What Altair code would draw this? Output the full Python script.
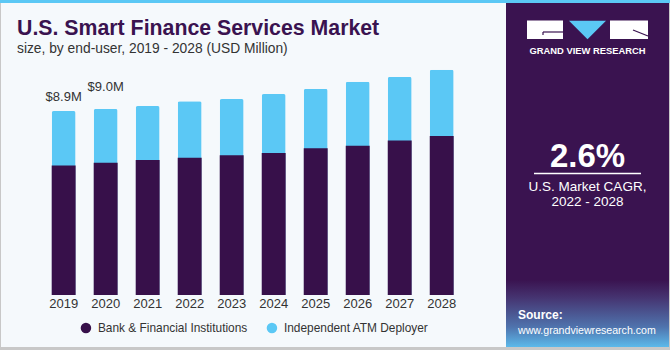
import altair as alt
import pandas as pd

years = ["2019", "2020", "2021", "2022", "2023", "2024", "2025", "2026", "2027", "2028"]
bank = [6.27, 6.40, 6.53, 6.64, 6.76, 6.87, 7.10, 7.22, 7.47, 7.69]
atm = [2.63, 2.60, 2.61, 2.73, 2.72, 2.85, 2.87, 3.10, 3.08, 3.21]
value_labels = ["$8.9M", "$9.0M", "", "", "", "", "", "", "", ""]
series_names = ["Bank & Financial Institutions", "Independent ATM Deployer"]
series_colors = ["#37104a", "#5bc8f5"]

df = pd.DataFrame({"year": years, "bank": bank, "atm": atm, "label": value_labels})

FONT = "Liberation Sans"
BG = "#f5f9fc"
PANEL = "#3a1350"

xs = alt.Scale(domain=years, range=[51.7, 453.7], paddingInner=0.43, paddingOuter=0)
ys = alt.Scale(domain=[0, 14.27], range=[295, 0])
cs = alt.Scale(domain=series_names, range=series_colors)

base = alt.Chart(df).transform_calculate(total="datum.bank + datum.atm")

atm_bars = base.transform_calculate(series="'Independent ATM Deployer'").mark_bar(
    cornerRadiusTopLeft=2, cornerRadiusTopRight=2
).encode(
    x=alt.X("year:N", scale=xs, axis=None),
    y=alt.Y("total:Q", scale=ys, axis=None),
    color=alt.Color("series:N", scale=cs, legend=alt.Legend(
        title=None, orient="none", legendX=80, legendY=322, direction="horizontal",
        symbolType="circle", symbolSize=110, symbolStrokeWidth=0,
        labelFontSize=11.9, labelColor="#333333", labelFont=FONT, labelLimit=0,
        columnPadding=18, labelOffset=6)),
)

bank_bars = base.transform_calculate(series="'Bank & Financial Institutions'").mark_bar().encode(
    x=alt.X("year:N", scale=xs, axis=None),
    y=alt.Y("bank:Q", scale=ys, axis=None),
    color=alt.Color("series:N", scale=cs),
)

lab1 = base.transform_filter("datum.year == '2019'").mark_text(
    font=FONT, fontSize=13, color="#333333", baseline="alphabetic", dy=-10
).encode(x=alt.X("year:N", scale=xs), y=alt.Y("total:Q", scale=ys), text="label:N")
lab2 = base.transform_filter("datum.year == '2020'").mark_text(
    font=FONT, fontSize=13, color="#333333", baseline="alphabetic", dy=-18
).encode(x=alt.X("year:N", scale=xs), y=alt.Y("total:Q", scale=ys), text="label:N")

year_labels = base.mark_text(font=FONT, fontSize=13, color="#333333", baseline="alphabetic").encode(
    x=alt.X("year:N", scale=xs), y=alt.value(308), text="year:N")

one = alt.Chart(pd.DataFrame({"a": [0]}))

def rect(x1, x2, y1, y2, color, **kw):
    return one.mark_rect(color=color, **kw).encode(
        x=alt.value(x1), x2=alt.value(x2), y=alt.value(y1), y2=alt.value(y2))

def text(t, x, y, size, color, weight="normal", align="left"):
    return one.mark_text(text=t, font=FONT, fontSize=size, color=color, fontWeight=weight,
                         align=align, baseline="alphabetic").encode(x=alt.value(x), y=alt.value(y))

def rule(x1, y1, x2, y2, color, w):
    return one.mark_rule(color=color, strokeWidth=w).encode(
        x=alt.value(x1), y=alt.value(y1), x2=alt.value(x2), y2=alt.value(y2))

gradient = alt.Gradient(gradient="linear", x1=0, y1=0, x2=0, y2=1, stops=[
    alt.GradientStop(color=PANEL, offset=0),
    alt.GradientStop(color="#45326f", offset=0.25),
    alt.GradientStop(color="#4f73ad", offset=0.7),
    alt.GradientStop(color="#5cb9ea", offset=1),
])

decor = [
    rect(0, 670, 0, 350, BG),
    rect(0, 670, 0, 3, "#5bc8f5"),
    rect(0, 1, 3, 350, "#c8c8c8"),
    rect(0, 670, 347, 350, "#c8c8c8"),
    rect(506, 669, 3, 347, PANEL),
    rect(506, 669, 280, 347, "#000000").mark_rect(color=gradient),
    rect(669, 670, 3, 350, "#c8c8c8"),
    # logo
    rect(527, 563, 20.5, 39, "#ffffff"),
    rect(610, 648, 20.5, 39, "#ffffff"),
    rule(543, 32, 563, 32, PANEL, 1.2),
    rule(543, 32, 543, 35, PANEL, 1.2),
    rule(633, 30, 648, 36, PANEL, 1.2),
    one.mark_point(shape="M-1,-0.5L1,-0.5L0,0.5Z", filled=True, opacity=1, size=1369,
                   color="#5bc8f5", strokeWidth=0).encode(x=alt.value(587.5), y=alt.value(30)),
    text("GRAND VIEW RESEARCH", 587.5, 54, 9.4, "#ffffff", "bold", "center"),
    text("2.6%", 587.5, 167, 33, "#ffffff", "bold", "center"),
    rule(534, 173.5, 641, 173.5, "#ffffff", 1.5),
    text("U.S. Market CAGR,", 587.5, 191, 13.5, "#ffffff", "normal", "center"),
    text("2022 - 2028", 587.5, 206, 13.5, "#ffffff", "normal", "center"),
    text("Source:", 518, 319, 12, "#ffffff", "bold"),
    text("www.grandviewresearch.com", 518, 334, 10.6, "#ffffff"),
    text("U.S. Smart Finance Services Market", 17, 35, 21.3, "#3a1350", "bold"),
    text("size, by end-user, 2019 - 2028 (USD Million)", 17, 53, 13.8, "#333333"),
]

chart = alt.layer(*decor, atm_bars, bank_bars, lab1, lab2, year_labels).properties(
    width=670, height=350, padding=0, autosize="none", background=BG
).configure_view(strokeWidth=0)

chart.save("out.html", embed_options={"renderer": "svg", "actions": False})
